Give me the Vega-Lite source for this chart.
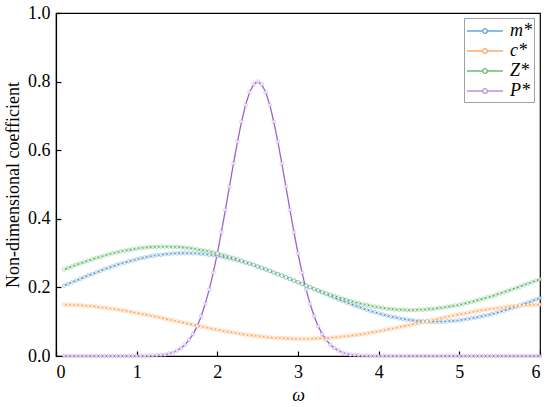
{
  "$schema": "https://vega.github.io/schema/vega-lite/v6.json",
  "width": 484,
  "height": 343,
  "autosize": {"type": "none"},
  "padding": {"left": 56, "top": 13, "right": 10, "bottom": 51},
  "background": "white",
  "config": {
    "view": {"stroke": "black", "strokeWidth": 1.2},
    "font": "Liberation Serif, Times New Roman, serif",
    "axis": {
      "grid": false,
      "domainColor": "black",
      "domainWidth": 1.2,
      "tickColor": "black",
      "tickWidth": 1.2,
      "tickSize": -5,
      "labelFont": "Liberation Serif, Times New Roman, serif",
      "labelFontSize": 18,
      "labelColor": "black",
      "titleFont": "Liberation Serif, Times New Roman, serif",
      "titleFontSize": 18,
      "titleColor": "black",
      "titleFontWeight": "normal"
    }
  },
  "data": {
    "values": [
      {"w":0.1,"m":0.205,"c":0.150,"Z":0.252,"P":0},
      {"w":0.15,"m":0.210,"c":0.149,"Z":0.257,"P":0},
      {"w":0.2,"m":0.215,"c":0.149,"Z":0.261,"P":0},
      {"w":0.25,"m":0.220,"c":0.148,"Z":0.266,"P":0},
      {"w":0.3,"m":0.225,"c":0.148,"Z":0.270,"P":0},
      {"w":0.35,"m":0.230,"c":0.147,"Z":0.274,"P":0},
      {"w":0.4,"m":0.235,"c":0.146,"Z":0.278,"P":0},
      {"w":0.45,"m":0.239,"c":0.145,"Z":0.282,"P":0},
      {"w":0.5,"m":0.244,"c":0.144,"Z":0.286,"P":0},
      {"w":0.55,"m":0.248,"c":0.142,"Z":0.289,"P":0},
      {"w":0.6,"m":0.253,"c":0.141,"Z":0.293,"P":0},
      {"w":0.65,"m":0.257,"c":0.139,"Z":0.296,"P":0},
      {"w":0.7,"m":0.261,"c":0.138,"Z":0.299,"P":0},
      {"w":0.75,"m":0.265,"c":0.136,"Z":0.302,"P":0},
      {"w":0.8,"m":0.269,"c":0.134,"Z":0.305,"P":0},
      {"w":0.85,"m":0.272,"c":0.132,"Z":0.307,"P":0},
      {"w":0.9,"m":0.276,"c":0.130,"Z":0.309,"P":0},
      {"w":0.95,"m":0.279,"c":0.128,"Z":0.311,"P":0},
      {"w":1.0,"m":0.282,"c":0.126,"Z":0.313,"P":0},
      {"w":1.05,"m":0.285,"c":0.123,"Z":0.315,"P":0},
      {"w":1.1,"m":0.287,"c":0.121,"Z":0.316,"P":0},
      {"w":1.15,"m":0.290,"c":0.119,"Z":0.317,"P":0.001},
      {"w":1.2,"m":0.292,"c":0.116,"Z":0.318,"P":0.001},
      {"w":1.25,"m":0.294,"c":0.114,"Z":0.318,"P":0.002},
      {"w":1.3,"m":0.295,"c":0.112,"Z":0.319,"P":0.003},
      {"w":1.35,"m":0.297,"c":0.109,"Z":0.319,"P":0.004},
      {"w":1.4,"m":0.298,"c":0.106,"Z":0.319,"P":0.007},
      {"w":1.45,"m":0.299,"c":0.104,"Z":0.318,"P":0.010},
      {"w":1.5,"m":0.299,"c":0.101,"Z":0.318,"P":0.016},
      {"w":1.55,"m":0.300,"c":0.099,"Z":0.317,"P":0.023},
      {"w":1.6,"m":0.300,"c":0.096,"Z":0.316,"P":0.033},
      {"w":1.65,"m":0.300,"c":0.094,"Z":0.315,"P":0.047},
      {"w":1.7,"m":0.299,"c":0.091,"Z":0.313,"P":0.064},
      {"w":1.75,"m":0.299,"c":0.089,"Z":0.311,"P":0.087},
      {"w":1.8,"m":0.298,"c":0.086,"Z":0.309,"P":0.116},
      {"w":1.85,"m":0.297,"c":0.084,"Z":0.307,"P":0.152},
      {"w":1.9,"m":0.295,"c":0.081,"Z":0.305,"P":0.194},
      {"w":1.95,"m":0.294,"c":0.079,"Z":0.302,"P":0.243},
      {"w":2.0,"m":0.292,"c":0.077,"Z":0.299,"P":0.299},
      {"w":2.05,"m":0.290,"c":0.074,"Z":0.296,"P":0.361},
      {"w":2.1,"m":0.287,"c":0.072,"Z":0.293,"P":0.426},
      {"w":2.15,"m":0.285,"c":0.070,"Z":0.289,"P":0.494},
      {"w":2.2,"m":0.282,"c":0.068,"Z":0.286,"P":0.561},
      {"w":2.25,"m":0.279,"c":0.066,"Z":0.282,"P":0.625},
      {"w":2.3,"m":0.276,"c":0.064,"Z":0.278,"P":0.683},
      {"w":2.35,"m":0.272,"c":0.062,"Z":0.274,"P":0.732},
      {"w":2.4,"m":0.269,"c":0.061,"Z":0.270,"P":0.769},
      {"w":2.45,"m":0.265,"c":0.059,"Z":0.266,"P":0.792},
      {"w":2.5,"m":0.261,"c":0.058,"Z":0.261,"P":0.800},
      {"w":2.55,"m":0.257,"c":0.057,"Z":0.257,"P":0.792},
      {"w":2.6,"m":0.253,"c":0.055,"Z":0.252,"P":0.769},
      {"w":2.65,"m":0.248,"c":0.054,"Z":0.248,"P":0.732},
      {"w":2.7,"m":0.244,"c":0.053,"Z":0.243,"P":0.683},
      {"w":2.75,"m":0.239,"c":0.052,"Z":0.238,"P":0.625},
      {"w":2.8,"m":0.235,"c":0.052,"Z":0.234,"P":0.561},
      {"w":2.85,"m":0.230,"c":0.051,"Z":0.229,"P":0.494},
      {"w":2.9,"m":0.225,"c":0.051,"Z":0.224,"P":0.426},
      {"w":2.95,"m":0.220,"c":0.050,"Z":0.219,"P":0.361},
      {"w":3.0,"m":0.215,"c":0.050,"Z":0.215,"P":0.299},
      {"w":3.05,"m":0.210,"c":0.050,"Z":0.210,"P":0.243},
      {"w":3.1,"m":0.205,"c":0.050,"Z":0.205,"P":0.194},
      {"w":3.15,"m":0.200,"c":0.050,"Z":0.201,"P":0.152},
      {"w":3.2,"m":0.195,"c":0.051,"Z":0.196,"P":0.116},
      {"w":3.25,"m":0.190,"c":0.051,"Z":0.192,"P":0.087},
      {"w":3.3,"m":0.185,"c":0.052,"Z":0.187,"P":0.064},
      {"w":3.35,"m":0.180,"c":0.052,"Z":0.183,"P":0.047},
      {"w":3.4,"m":0.175,"c":0.053,"Z":0.179,"P":0.033},
      {"w":3.45,"m":0.170,"c":0.054,"Z":0.175,"P":0.023},
      {"w":3.5,"m":0.165,"c":0.055,"Z":0.171,"P":0.016},
      {"w":3.55,"m":0.161,"c":0.057,"Z":0.167,"P":0.010},
      {"w":3.6,"m":0.156,"c":0.058,"Z":0.164,"P":0.007},
      {"w":3.65,"m":0.152,"c":0.059,"Z":0.160,"P":0.004},
      {"w":3.7,"m":0.147,"c":0.061,"Z":0.157,"P":0.003},
      {"w":3.75,"m":0.143,"c":0.062,"Z":0.154,"P":0.002},
      {"w":3.8,"m":0.139,"c":0.064,"Z":0.151,"P":0.001},
      {"w":3.85,"m":0.135,"c":0.066,"Z":0.149,"P":0.001},
      {"w":3.9,"m":0.131,"c":0.068,"Z":0.146,"P":0},
      {"w":3.95,"m":0.128,"c":0.070,"Z":0.144,"P":0},
      {"w":4.0,"m":0.124,"c":0.072,"Z":0.142,"P":0},
      {"w":4.05,"m":0.121,"c":0.074,"Z":0.140,"P":0},
      {"w":4.1,"m":0.118,"c":0.077,"Z":0.138,"P":0},
      {"w":4.15,"m":0.115,"c":0.079,"Z":0.137,"P":0},
      {"w":4.2,"m":0.113,"c":0.081,"Z":0.136,"P":0},
      {"w":4.25,"m":0.110,"c":0.084,"Z":0.135,"P":0},
      {"w":4.3,"m":0.108,"c":0.086,"Z":0.135,"P":0},
      {"w":4.35,"m":0.106,"c":0.089,"Z":0.134,"P":0},
      {"w":4.4,"m":0.105,"c":0.091,"Z":0.134,"P":0},
      {"w":4.45,"m":0.103,"c":0.094,"Z":0.134,"P":0},
      {"w":4.5,"m":0.102,"c":0.096,"Z":0.135,"P":0},
      {"w":4.55,"m":0.101,"c":0.099,"Z":0.135,"P":0},
      {"w":4.6,"m":0.101,"c":0.101,"Z":0.136,"P":0},
      {"w":4.65,"m":0.100,"c":0.104,"Z":0.137,"P":0},
      {"w":4.7,"m":0.100,"c":0.106,"Z":0.138,"P":0},
      {"w":4.75,"m":0.100,"c":0.109,"Z":0.140,"P":0},
      {"w":4.8,"m":0.100,"c":0.112,"Z":0.141,"P":0},
      {"w":4.85,"m":0.101,"c":0.114,"Z":0.143,"P":0},
      {"w":4.9,"m":0.102,"c":0.116,"Z":0.145,"P":0},
      {"w":4.95,"m":0.103,"c":0.119,"Z":0.147,"P":0},
      {"w":5.0,"m":0.104,"c":0.121,"Z":0.149,"P":0},
      {"w":5.05,"m":0.106,"c":0.123,"Z":0.152,"P":0},
      {"w":5.1,"m":0.108,"c":0.126,"Z":0.155,"P":0},
      {"w":5.15,"m":0.110,"c":0.128,"Z":0.158,"P":0},
      {"w":5.2,"m":0.112,"c":0.130,"Z":0.161,"P":0},
      {"w":5.25,"m":0.114,"c":0.132,"Z":0.164,"P":0},
      {"w":5.3,"m":0.117,"c":0.134,"Z":0.167,"P":0},
      {"w":5.35,"m":0.119,"c":0.136,"Z":0.171,"P":0},
      {"w":5.4,"m":0.122,"c":0.138,"Z":0.174,"P":0},
      {"w":5.45,"m":0.125,"c":0.139,"Z":0.178,"P":0},
      {"w":5.5,"m":0.129,"c":0.141,"Z":0.182,"P":0},
      {"w":5.55,"m":0.132,"c":0.142,"Z":0.186,"P":0},
      {"w":5.6,"m":0.136,"c":0.144,"Z":0.190,"P":0},
      {"w":5.65,"m":0.140,"c":0.145,"Z":0.194,"P":0},
      {"w":5.7,"m":0.143,"c":0.146,"Z":0.198,"P":0},
      {"w":5.75,"m":0.147,"c":0.147,"Z":0.202,"P":0},
      {"w":5.8,"m":0.152,"c":0.148,"Z":0.207,"P":0},
      {"w":5.85,"m":0.156,"c":0.148,"Z":0.211,"P":0},
      {"w":5.9,"m":0.160,"c":0.149,"Z":0.215,"P":0},
      {"w":5.95,"m":0.165,"c":0.149,"Z":0.219,"P":0},
      {"w":6.0,"m":0.169,"c":0.150,"Z":0.224,"P":0}
    ]
  },
  "transform": [{"fold": ["m", "c", "Z", "P"], "as": ["series", "value"]}],
  "encoding": {
    "x": {
      "field": "w", "type": "quantitative",
      "scale": {"domain": [0, 6], "nice": false, "zero": false},
      "axis": {"title": "ω", "titleFontStyle": "italic", "values": [0,1,2,3,4,5,6], "format": "d", "labelPadding": 12, "titlePadding": 5}
    },
    "y": {
      "field": "value", "type": "quantitative",
      "scale": {"domain": [0, 1], "nice": false},
      "axis": {"title": "Non-dimensional coefficient", "values": [0,0.2,0.4,0.6,0.8,1.0], "format": ".1f", "labelPadding": 11, "titlePadding": 5}
    },
    "color": {
      "field": "series", "type": "nominal",
      "scale": {"domain": ["m", "c", "Z", "P"], "range": ["#2a7fc4", "#ff8a24", "#2ca336", "#9d62cc"]},
      "legend": {
        "title": null,
        "orient": "none",
        "legendX": 408,
        "legendY": 5,
        "padding": 2,
        "strokeColor": "#a0a0a0",
        "fillColor": "white",
        "cornerRadius": 0,
        "symbolType": "M-1,0H0.57M1.03,0H2.6M0.57,0A0.23,0.23,0,1,0,1.03,0A0.23,0.23,0,1,0,0.57,0Z",
        "symbolSize": 400,
        "symbolStrokeWidth": 1.3,
        "symbolFillColor": "white",
        "labelFont": "Liberation Serif, Times New Roman, serif",
        "labelFontSize": 18,
        "labelFontStyle": "italic",
        "labelColor": "black",
        "labelOffset": 22,
        "labelExpr": "datum.label + '*'",
        "rowPadding": 0
      }
    }
  },
  "layer": [
    {"mark": {"type": "line", "strokeWidth": 1.3}},
    {"mark": {"type": "point", "filled": false, "fill": "white", "size": 14, "strokeWidth": 0.9, "strokeOpacity": 0.5}}
  ]
}
